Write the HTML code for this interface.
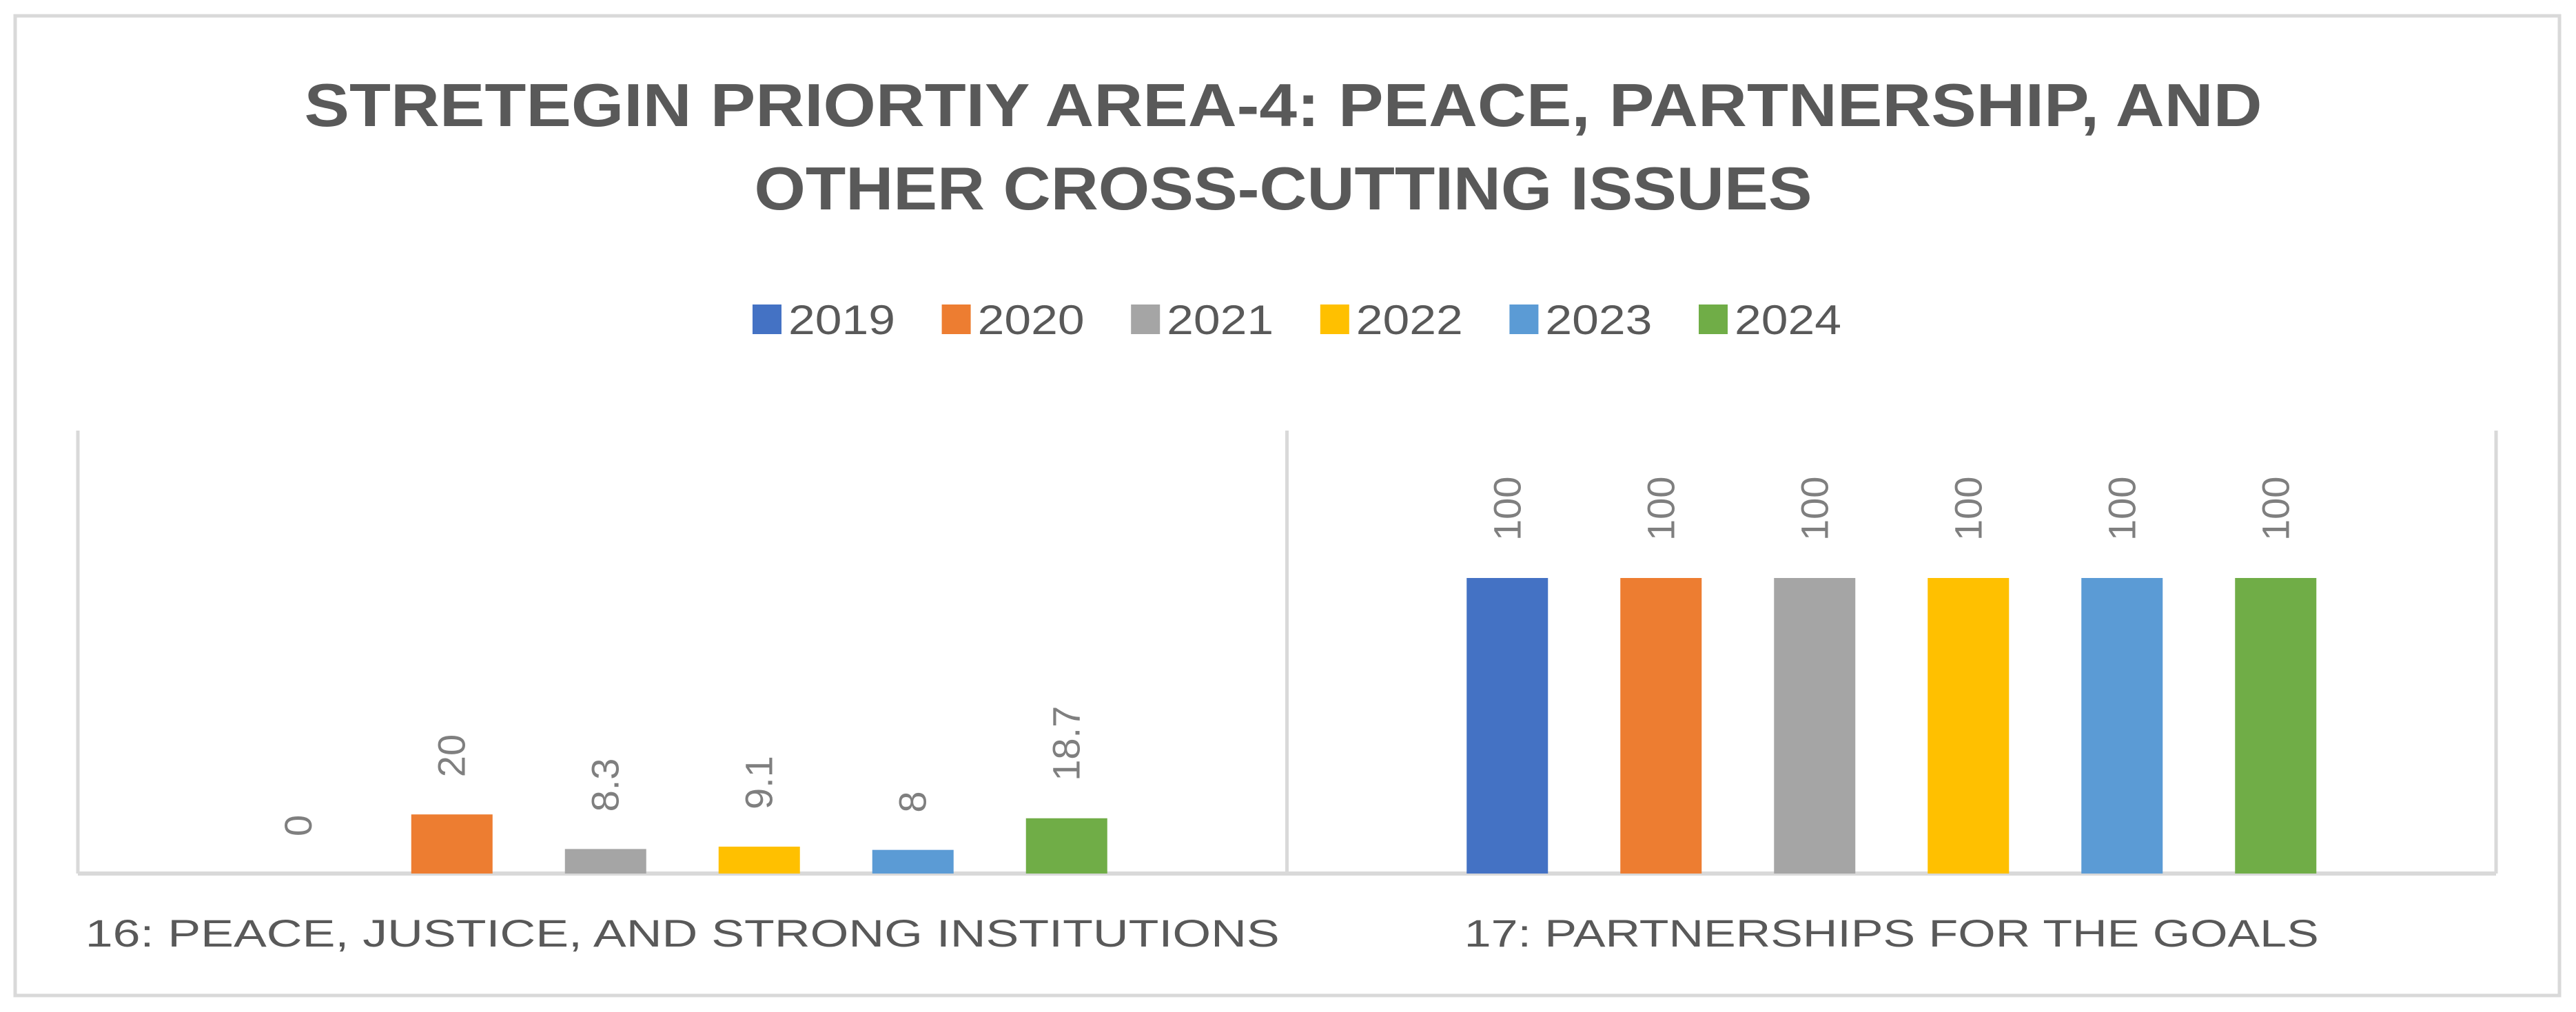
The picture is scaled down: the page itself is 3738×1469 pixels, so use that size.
<!DOCTYPE html>
<html><head><meta charset="utf-8"><style>
html,body{margin:0;padding:0;background:#fff;}
svg{display:block;font-family:"Liberation Sans",sans-serif;}
</style></head><body>
<svg id="chart" width="3738" height="1469" viewBox="0 0 3738 1469" xmlns="http://www.w3.org/2000/svg">
<rect x="22" y="23" width="3692" height="1422" fill="#fff" stroke="#d9d9d9" stroke-width="5"/>
<text x="1862" y="183" text-anchor="middle" font-size="88" font-weight="bold" fill="#595959" textLength="2841" lengthAdjust="spacingAndGlyphs">STRETEGIN PRIORTIY AREA-4: PEACE, PARTNERSHIP, AND</text>
<text x="1862" y="304" text-anchor="middle" font-size="88" font-weight="bold" fill="#595959" textLength="1535" lengthAdjust="spacingAndGlyphs">OTHER CROSS-CUTTING ISSUES</text>
<g id="legend"></g>
<g id="axes"></g>
<g id="bars"></g>
</svg>
<script>
const categories = ["16: PEACE, JUSTICE, AND STRONG INSTITUTIONS", "17: PARTNERSHIPS FOR THE GOALS"];
const seriesNames = ["2019", "2020", "2021", "2022", "2023", "2024"];
const values2019 = [0, 100];
const values2020 = [20, 100];
const values2021 = [8.3, 100];
const values2022 = [9.1, 100];
const values2023 = [8, 100];
const values2024 = [18.7, 100];
const seriesValues = [values2019, values2020, values2021, values2022, values2023, values2024];
const colors = ["#4472C4", "#ED7D31", "#A5A5A5", "#FFC000", "#5B9BD5", "#70AD47"];

const NS = "http://www.w3.org/2000/svg";
const plotL = 113, plotR = 3622, baseY = 1268, plotTop = 625;
const catW = (plotR - plotL) / categories.length;
const pxPerUnit = 4.29;
const yScale = v => baseY - v * pxPerUnit;
const slot = 223, barW = 118;
const xCenter = (ci, si) => plotL + catW * ci + catW / 2 + (si - (seriesNames.length - 1) / 2) * slot;
function mk(tag, attrs, parent) {
  const e = document.createElementNS(NS, tag);
  for (const k in attrs) e.setAttribute(k, attrs[k]);
  parent.appendChild(e);
  return e;
}
const axes = document.getElementById('axes');
const bars = document.getElementById('bars');
const legend = document.getElementById('legend');

// vertical separators
for (let i = 0; i <= categories.length; i++) {
  const x = plotL + catW * i;
  const l = mk('line', {x1: x, x2: x, y1: plotTop, y2: baseY, stroke: '#d9d9d9', 'stroke-width': 5}, axes);
  
  
}
const base = mk('line', {x1: plotL, x2: plotR, y1: baseY, y2: baseY, stroke: '#d9d9d9', 'stroke-width': 6}, axes);



const catLens = [1733, 1240];
categories.forEach((c, ci) => {
  const t = mk('text', {x: plotL + catW * ci + catW / 2, y: 1374, 'text-anchor': 'middle', 'font-size': 56, fill: '#595959', textLength: catLens[ci], lengthAdjust: 'spacingAndGlyphs'}, axes);
  t.textContent = c;
  
  
});

seriesValues.forEach((vals, si) => {
  vals.forEach((v, ci) => {
    const xc = xCenter(ci, si);
    const yt = yScale(v);
    const r = mk('rect', {x: xc - barW / 2, y: yt, width: barW, height: baseY - yt, fill: colors[si]}, bars);
    
    
    const ly = yt - 54;
    const t = mk('text', {x: xc + 19, y: ly, transform: 'rotate(-90 ' + (xc + 19) + ' ' + ly + ')', 'font-size': 56, fill: '#7f7f7f'}, bars);
    t.textContent = String(v);
    
    
  });
});

seriesNames.forEach((n, si) => {
  const x = 1092 + si * 274.6;
  const r = mk('rect', {x: x, y: 442, width: 42, height: 43, fill: colors[si]}, legend);
  
  
  const t = mk('text', {x: x + 52, y: 485, 'font-size': 60, fill: '#595959', textLength: 155, lengthAdjust: 'spacingAndGlyphs'}, legend);
  t.textContent = n;
  
  
});
</script>
</body></html>
